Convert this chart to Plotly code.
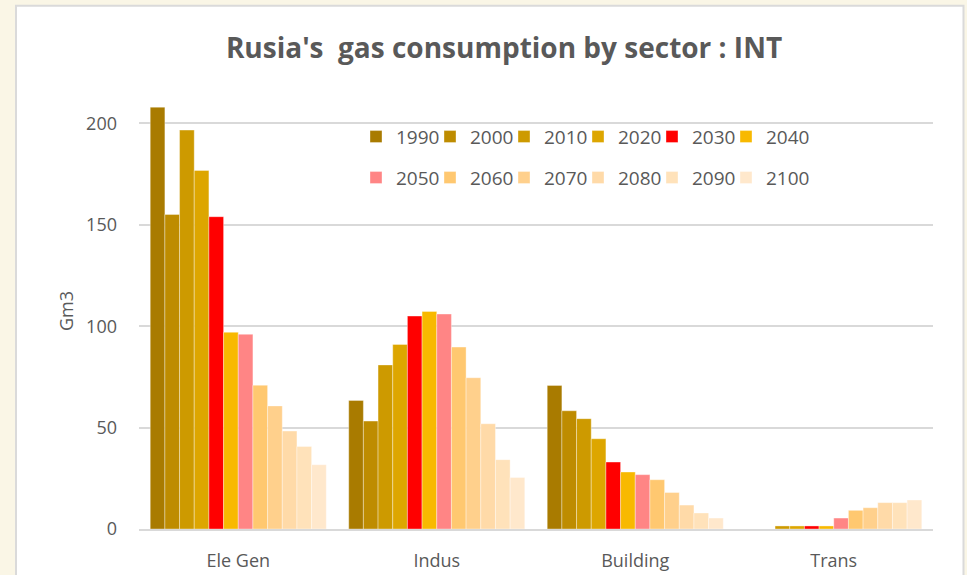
import plotly.graph_objects as go

sectors = ["Ele Gen", "Indus", "Building", "Trans"]
years = ["1990", "2000", "2010", "2020", "2030", "2040",
         "2050", "2060", "2070", "2080", "2090", "2100"]

# values per year, in order of sectors (Gm3)
v1990 = [208.0, 63.4, 70.8, 0.0]
v2000 = [155.1, 53.2, 58.3, 0.0]
v2010 = [196.7, 80.9, 54.4, 1.5]
v2020 = [176.8, 91.0, 44.5, 1.5]
v2030 = [154.0, 105.0, 33.0, 1.5]
v2040 = [97.0, 107.3, 28.1, 1.5]
v2050 = [96.0, 106.0, 26.8, 5.4]
v2060 = [70.9, 89.7, 24.3, 9.2]
v2070 = [60.7, 74.6, 18.0, 10.5]
v2080 = [48.3, 51.9, 11.8, 13.0]
v2090 = [40.7, 34.2, 7.9, 13.0]
v2100 = [31.7, 25.4, 5.4, 14.3]
values = [v1990, v2000, v2010, v2020, v2030, v2040,
          v2050, v2060, v2070, v2080, v2090, v2100]

colors = ["#A97B00", "#BE8C00", "#CD9A00", "#DDA600", "#FF0000", "#F8B900",
          "#FF8585", "#FFC870", "#FFD08C", "#FFDAA8", "#FFE2BA", "#FFE8CC"]

W, H = 967, 575
L, R, T, B = 139, 34, 93.3, 45.7
ph = H - T - B
pw = W - L - R

def px_x(x):
    return (x - L) / pw

def px_y(y):
    return (H - B - y) / ph

FONT = "Open Sans"
GREY = "#595959"

fig = go.Figure()
legends = {}
for i, (yr, vals, c) in enumerate(zip(years, values, colors)):
    lname = "legend" if i == 0 else f"legend{i + 1}"
    fig.add_trace(go.Bar(
        x=sectors, y=vals, name=yr, showlegend=True,
        marker=dict(color=c, line=dict(color="rgba(255,255,255,0.45)", width=0.8)),
        legend=lname,
    ))
    col, row = i % 6, i // 6
    legends[lname] = dict(
        x=px_x(356 + 74 * col), y=px_y(137 + 41 * row),
        xanchor="left", yanchor="middle", orientation="h",
        font=dict(family=FONT, size=19, color=GREY),
        bgcolor="rgba(0,0,0,0)",
        itemclick=False, itemdoubleclick=False,
    )

fig.update_layout(
    width=W, height=H,
    showlegend=True,
    margin=dict(l=L, r=R, t=T, b=B, pad=0),
    paper_bgcolor="#FAF6E6",
    plot_bgcolor="rgba(0,0,0,0)",
    barmode="group", bargap=0.113, bargroupgap=0,
    title=dict(
        text="<b>Rusia's \u00a0gas consumption by sector : INT</b>",
        x=px_x(504), xref="paper", xanchor="center",
        y=1 - 48 / H, yref="container", yanchor="middle",
        font=dict(family=FONT, size=28, color=GREY),
    ),
    shapes=[dict(
        type="rect", xref="paper", yref="paper", layer="below",
        x0=px_x(16), x1=px_x(963.5), y0=px_y(590), y1=px_y(6),
        fillcolor="white", line=dict(color="#DADADA", width=2),
    )],
    xaxis=dict(
        showgrid=False, showline=True, linecolor="#D9D9D9", linewidth=2,
        ticks="", ticklabelstandoff=14, automargin=False,
        tickfont=dict(family=FONT, size=18, color=GREY),
    ),
    yaxis=dict(
        range=[0, 215], tickvals=[0, 50, 100, 150, 200],
        showgrid=True, gridcolor="#D9D9D9", gridwidth=1.5, automargin=False,
        zeroline=False, showline=False, ticks="", ticklabelstandoff=21,
        tickfont=dict(family=FONT, size=18, color=GREY),
        title=dict(text="Gm3", standoff=7,
                   font=dict(family=FONT, size=18, color=GREY)),
    ),
    **legends,
)

fig.write_html(
    "out.html",
    config={"displayModeBar": False},
    post_script="document.body.style.margin='0';document.body.style.overflow='hidden';",
)
